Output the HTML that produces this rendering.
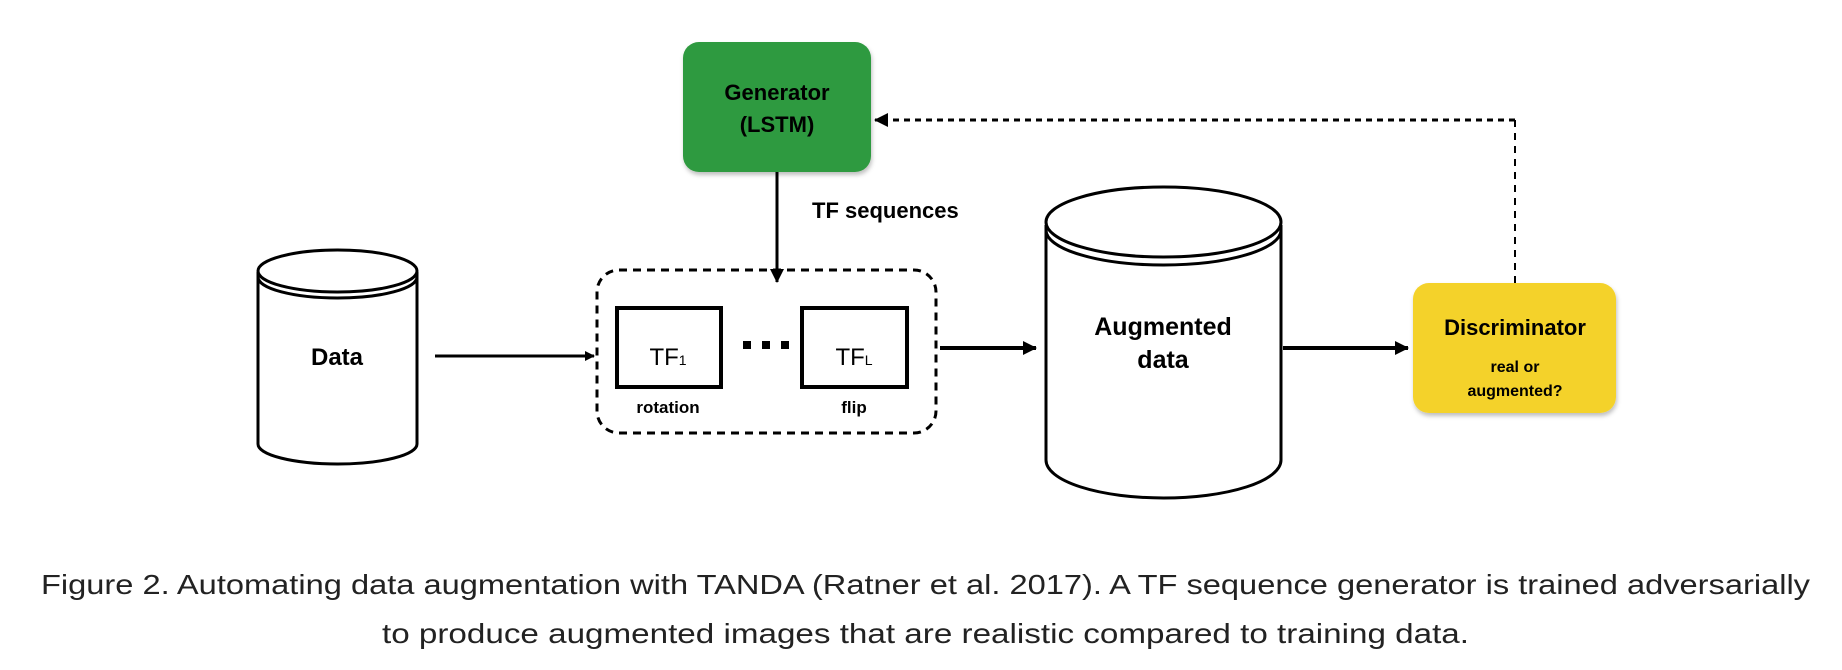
<!DOCTYPE html>
<html><head><meta charset="utf-8"><style>
html,body{margin:0;padding:0;background:#fff;}
svg{display:block;}
</style></head><body>
<svg width="1842" height="670" viewBox="0 0 1842 670" xmlns="http://www.w3.org/2000/svg" font-family="Liberation Sans, sans-serif">
<defs>
<marker id="ah" markerWidth="10" markerHeight="10" refX="9" refY="5" orient="auto" markerUnits="userSpaceOnUse">
<path d="M0,0 L10,5 L0,10 z" fill="#000"/></marker>
<marker id="ahs" markerWidth="14" markerHeight="14" refX="13" refY="7" orient="auto" markerUnits="userSpaceOnUse">
<path d="M0,0 L14,7 L0,14 z" fill="#000"/></marker>
<filter id="sh" x="-10%" y="-10%" width="125%" height="130%"><feDropShadow dx="1" dy="3" stdDeviation="2" flood-color="#000" flood-opacity="0.25"/></filter>
</defs>

<!-- Generator -->
<rect x="683" y="42" width="188" height="130" rx="16" fill="#2f9a3f" filter="url(#sh)"/>
<text x="777" y="100" text-anchor="middle" font-size="22" font-weight="bold">Generator</text>
<text x="777" y="132" text-anchor="middle" font-size="22" font-weight="bold">(LSTM)</text>

<!-- down arrow -->
<line x1="777" y1="172" x2="777" y2="282" stroke="#000" stroke-width="3" marker-end="url(#ahs)"/>
<text x="812" y="218" font-size="22" font-weight="bold">TF sequences</text>

<!-- feedback -->
<line x1="1515" y1="120" x2="875" y2="120" stroke="#000" stroke-width="3" stroke-dasharray="6,5" marker-end="url(#ahs)"/>
<line x1="1515" y1="120" x2="1515" y2="283" stroke="#000" stroke-width="2" stroke-dasharray="7,6"/>

<!-- Data cylinder -->
<path d="M258,272 L258,444 A79.5,20 0 0 0 417,444 L417,272" fill="#fff" stroke="#000" stroke-width="3"/>
<path d="M258,277 A79.5,21 0 0 0 417,277" fill="none" stroke="#000" stroke-width="3"/>
<ellipse cx="337.5" cy="271" rx="79.5" ry="21" fill="#fff" stroke="#000" stroke-width="3"/>
<text x="337" y="365" text-anchor="middle" font-size="24" font-weight="bold">Data</text>

<line x1="435" y1="356" x2="594" y2="356" stroke="#000" stroke-width="3" marker-end="url(#ah)"/>

<!-- dashed group -->
<rect x="597" y="270" width="339" height="163" rx="22" fill="none" stroke="#000" stroke-width="3" stroke-dasharray="8,6"/>
<rect x="617" y="308" width="104" height="79" fill="#fff" stroke="#000" stroke-width="4"/>
<rect x="802" y="308" width="105" height="79" fill="#fff" stroke="#000" stroke-width="4"/>
<text x="668" y="365" text-anchor="middle" font-size="24">TF<tspan font-size="14">1</tspan></text>
<text x="854" y="365" text-anchor="middle" font-size="24">TF<tspan font-size="14">L</tspan></text>
<rect x="743" y="341" width="8" height="8" fill="#000"/>
<rect x="762" y="341" width="8" height="8" fill="#000"/>
<rect x="781" y="341" width="8" height="8" fill="#000"/>
<text x="668" y="413" text-anchor="middle" font-size="17" font-weight="bold">rotation</text>
<text x="854" y="413" text-anchor="middle" font-size="17" font-weight="bold">flip</text>

<line x1="940" y1="348" x2="1036" y2="348" stroke="#000" stroke-width="4" marker-end="url(#ahs)"/>

<!-- Augmented cylinder -->
<path d="M1046,225 L1046,460 A117.5,38 0 0 0 1281,460 L1281,225" fill="#fff" stroke="#000" stroke-width="3"/>
<path d="M1046,230 A117.5,35 0 0 0 1281,230" fill="none" stroke="#000" stroke-width="3"/>
<ellipse cx="1163.5" cy="222" rx="117.5" ry="35" fill="#fff" stroke="#000" stroke-width="3"/>
<text x="1163" y="335" text-anchor="middle" font-size="25" font-weight="bold">Augmented</text>
<text x="1163" y="368" text-anchor="middle" font-size="25" font-weight="bold">data</text>

<line x1="1283" y1="348" x2="1408" y2="348" stroke="#000" stroke-width="4" marker-end="url(#ahs)"/>

<!-- Discriminator -->
<rect x="1413" y="283" width="203" height="130" rx="16" fill="#f4d22b" filter="url(#sh)"/>
<text x="1515" y="335" text-anchor="middle" font-size="22" font-weight="bold">Discriminator</text>
<text x="1515" y="372" text-anchor="middle" font-size="16" font-weight="bold">real or</text>
<text x="1515" y="396" text-anchor="middle" font-size="16" font-weight="bold">augmented?</text>

<!-- caption -->
<text x="41" y="594" font-size="28" fill="#222" textLength="1769" lengthAdjust="spacingAndGlyphs">Figure 2. Automating data augmentation with TANDA (Ratner et al. 2017). A TF sequence generator is trained adversarially</text>
<text x="382" y="643" font-size="28" fill="#222" textLength="1087" lengthAdjust="spacingAndGlyphs">to produce augmented images that are realistic compared to training data.</text>
</svg>
</body></html>
